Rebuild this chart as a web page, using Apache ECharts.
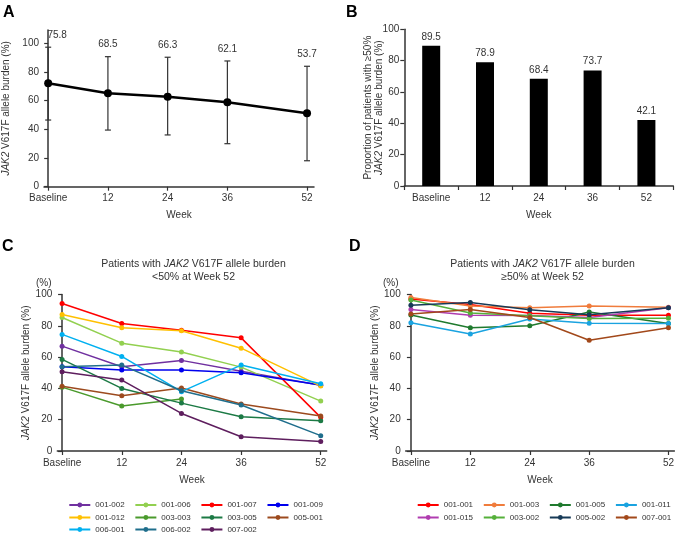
<!DOCTYPE html>
<html><head><meta charset="utf-8">
<script src="https://cdn.jsdelivr.net/npm/echarts@6/dist/echarts.min.js"></script>
<style>html,body{margin:0;padding:0;background:#fff}#c{width:677px;height:533px}</style>
</head><body><div id="c"></div>
<script>
// ---------- DATA ----------
const weeks = [0, 12, 24, 36, 52];
const weekLabels = ['Baseline', '12', '24', '36', '52'];
const yTicks = [0, 20, 40, 60, 80, 100];

// Panel A
const meanBurden = [72.2, 65.2, 62.8, 58.9, 51.2];
const errLow = [46.5, 39.5, 36.1, 30.0, 18.1];
const errHigh = [97.3, 90.7, 90.3, 87.7, 84.0];
const topLabels = ['75.8', '68.5', '66.3', '62.1', '53.7'];

// Panel B
const proportion = [89.5, 78.9, 68.4, 73.7, 42.1];

// Panel C (<50% at week 52)
const cNames = ['001-002', '001-006', '001-007', '001-009', '001-012', '003-003', '003-005', '005-001', '006-001', '006-002', '007-002'];
const c001_002 = [67.0, 53.8, 57.9, 51.0, 42.0];
const c001_006 = [85.3, 68.9, 63.2, 53.6, 31.9];
const c001_007 = [94.3, 81.5, 77.2, 72.3, 21.5];
const c001_009 = [53.8, 51.7, 51.7, 50.0, 42.1];
const c001_012 = [87.2, 78.7, 76.8, 65.7, 41.5];
const c003_003 = [40.8, 28.7, 33.2, null, null];
const c003_005 = [58.5, 40.0, 30.6, 21.9, 19.4];
const c005_001 = [41.3, 35.3, 40.2, 30.0, 22.3];
const c006_001 = [74.5, 60.4, 37.9, 54.9, 43.0];
const c006_002 = [53.8, 54.9, 38.5, 29.4, 9.8];
const c007_002 = [50.6, 45.3, 24.0, 9.1, 6.0];
const cValues = [c001_002, c001_006, c001_007, c001_009, c001_012, c003_003, c003_005, c005_001, c006_001, c006_002, c007_002];

// Panel D (>=50% at week 52)
const dNames = ['001-001', '001-003', '001-005', '001-011', '001-015', '003-002', '005-002', '007-001'];
const d001_001 = [97.2, 93.6, 88.0, 86.8, 86.7];
const d001_003 = [98.1, 92.6, 91.6, 92.6, 91.8];
const d001_005 = [86.9, 78.8, 80.0, 88.8, 81.5];
const d001_011 = [81.9, 74.7, 84.3, 81.7, 81.4];
const d001_015 = [90.4, 86.8, 86.6, 85.3, 91.5];
const d003_002 = [96.5, 88.2, 86.4, 84.7, 84.8];
const d005_002 = [93.2, 94.9, 90.3, 87.0, 91.6];
const d007_001 = [87.5, 90.4, 85.3, 70.8, 78.7];
const dValues = [d001_001, d001_003, d001_005, d001_011, d001_015, d003_002, d005_002, d007_001];

// ---------- STYLE ----------
const FONT = '"Liberation Sans", Arial, Helvetica, sans-serif';
const TXT = '#333';
const AX = '#333';
const cColors = ['#7030A0', '#92D050', '#FF0000', '#0000EE', '#FFC000', '#4A9A2C', '#1C7A45', '#9C4A1E', '#00B0F0', '#1F6E8C', '#5E1E5E'];
const dColors = ['#FF0000', '#F07C3C', '#1F7A2E', '#1AA3E0', '#B03CB0', '#55B03A', '#173A57', '#A2481A'];

const weekFmt = v => v === 0 ? 'Baseline' : String(v);

function valX(grid, min, max) {
  return {
    type: 'value', gridIndex: grid, min: min, max: max,
    axisLine: {show: true, onZero: false, lineStyle: {color: AX, width: 1.5}},
    axisTick: {show: true, length: 4, customValues: weeks, lineStyle: {color: AX, width: 1.2}},
    axisLabel: {customValues: weeks, formatter: weekFmt, color: TXT, fontSize: 10, fontFamily: FONT, margin: 7},
    splitLine: {show: false},
    name: 'Week', nameLocation: 'middle', nameGap: 24,
    nameTextStyle: {color: TXT, fontSize: 10, fontFamily: FONT}
  };
}
function valY(grid, max, name, gap) {
  return {
    type: 'value', gridIndex: grid, min: 0, max: max,
    axisLine: {show: true, lineStyle: {color: AX, width: 1.5}},
    axisTick: {show: true, length: 4, customValues: yTicks, lineStyle: {color: AX, width: 1.2}},
    axisLabel: {customValues: yTicks, color: TXT, fontSize: 10, fontFamily: FONT, margin: 5},
    splitLine: {show: false},
    name: name, nameLocation: 'middle', nameGap: gap, nameMoveOverlap: false,
    nameTextStyle: {color: TXT, fontSize: 10, fontFamily: FONT, lineHeight: 11,
      rich: {i: {fontStyle: 'italic', fontSize: 10, fontFamily: FONT, color: TXT},
             n: {fontSize: 10, fontFamily: FONT, color: TXT}}}
  };
}

const series = [];
// A: error bars + labels
series.push({
  type: 'custom', xAxisIndex: 0, yAxisIndex: 0, z: 2, clip: false,
  data: weeks.map((w, i) => [w, errLow[i], errHigh[i], i]),
  renderItem: function (params, api) {
    const x = api.value(0);
    const lo = api.coord([x, api.value(1)]);
    const hi = api.coord([x, api.value(2)]);
    const i = api.value(3);
    const cap = 3;
    const st = {stroke: '#333', lineWidth: 1.2};
    return {type: 'group', children: [
      {type: 'line', shape: {x1: lo[0], y1: lo[1], x2: hi[0], y2: hi[1]}, style: st},
      {type: 'line', shape: {x1: lo[0] - cap, y1: lo[1], x2: lo[0] + cap, y2: lo[1]}, style: st},
      {type: 'line', shape: {x1: hi[0] - cap, y1: hi[1], x2: hi[0] + cap, y2: hi[1]}, style: st},
      {type: 'text', x: hi[0] + (i === 0 ? 9 : 0), y: hi[1] - 12,
       style: {text: topLabels[i], fill: TXT, fontSize: 10, fontFamily: FONT, align: 'center', verticalAlign: 'middle'}}
    ]};
  }
});
series.push({
  type: 'line', xAxisIndex: 0, yAxisIndex: 0, z: 3,
  data: weeks.map((w, i) => [w, meanBurden[i]]),
  symbol: 'circle', symbolSize: 8, color: '#000',
  lineStyle: {color: '#000', width: 2.5}, itemStyle: {color: '#000'}
});
// B
series.push({
  type: 'bar', xAxisIndex: 1, yAxisIndex: 1, data: proportion, barWidth: 18,
  itemStyle: {color: '#000'},
  label: {show: true, position: 'top', distance: 4, color: TXT, fontSize: 10, fontFamily: FONT, formatter: p => p.value.toFixed(1)}
});
// C
cNames.forEach((n, k) => {
  series.push({
    type: 'line', name: n, xAxisIndex: 2, yAxisIndex: 2,
    data: weeks.map((w, i) => [w, cValues[k][i]]).filter(d => d[1] !== null),
    symbol: 'circle', symbolSize: 5, color: cColors[k],
    lineStyle: {width: 1.5, color: cColors[k]}, itemStyle: {color: cColors[k]}
  });
});
// D
dNames.forEach((n, k) => {
  series.push({
    type: 'line', name: n, xAxisIndex: 3, yAxisIndex: 3,
    data: weeks.map((w, i) => [w, dValues[k][i]]),
    symbol: 'circle', symbolSize: 5, color: dColors[k],
    lineStyle: {width: 1.5, color: dColors[k]}, itemStyle: {color: dColors[k]}
  });
});

function legendRow(names, left, top) {
  return {
    data: names, left: left, top: top, orient: 'horizontal', padding: 0,
    itemGap: 9.7, itemWidth: 21, itemHeight: 6,
    textStyle: {fontSize: 8, color: TXT, fontFamily: FONT}
  };
}

const titleStyle = {
  fontSize: 10.5, fontWeight: 'normal', color: TXT, fontFamily: FONT, lineHeight: 13.4,
  rich: {i: {fontStyle: 'italic', fontSize: 10.5, fontFamily: FONT, color: TXT, lineHeight: 13.4},
         n: {fontSize: 10.5, fontFamily: FONT, color: TXT, lineHeight: 13.4}}
};

const option = {
  animation: false,
  backgroundColor: '#fff',
  textStyle: {fontFamily: FONT},
  title: [
    {text: '{n|Patients with }{i|JAK2}{n| V617F allele burden}\n{n|<50% at Week 52}', left: 193.5, top: 257, textAlign: 'center', textStyle: titleStyle, padding: 0},
    {text: '{n|Patients with }{i|JAK2}{n| V617F allele burden}\n{n|\u226550% at Week 52}', left: 542.5, top: 257, textAlign: 'center', textStyle: titleStyle, padding: 0}
  ],
  grid: [
    {left: 43, top: 30, width: 271, height: 156.7},
    {left: 404.3, top: 29.3, width: 269, height: 156.7},
    {left: 57.3, top: 294.5, width: 269.4, height: 156.5},
    {left: 405.7, top: 294.5, width: 269.3, height: 156.5}
  ],
  xAxis: [
    valX(0, -0.84, 53.4),
    {
      type: 'category', gridIndex: 1, data: weekLabels,
      axisLine: {show: true, lineStyle: {color: AX, width: 1.5}},
      axisTick: {show: true, length: 4, lineStyle: {color: AX, width: 1.2}},
      axisLabel: {color: TXT, fontSize: 10, fontFamily: FONT, margin: 7},
      name: 'Week', nameLocation: 'middle', nameGap: 24,
      nameTextStyle: {color: TXT, fontSize: 10, fontFamily: FONT}
    },
    valX(2, -0.96, 53.2),
    valX(3, -1.05, 53.2)
  ],
  yAxis: [
    valY(0, 109.3, '{i|JAK2}{n| V617F allele burden (%)}', 32),
    valY(1, 100, '{n|Proportion of patients with \u226550%}\n{i|JAK2}{n| V617F allele burden (%)}', 20),
    valY(2, 100, '{i|JAK2}{n| V617F allele burden (%)}', 25.5),
    valY(3, 100, '{i|JAK2}{n| V617F allele burden (%)}', 25)
  ],
  legend: [
    legendRow(cNames.slice(0, 4), 68.3, 501),
    legendRow(cNames.slice(4, 8), 68.3, 513.5),
    legendRow(cNames.slice(8, 11), 68.3, 525.5),
    legendRow(dNames.slice(0, 4), 416.7, 501),
    legendRow(dNames.slice(4, 8), 416.7, 513.5)
  ],
  graphic: [
    {type: 'text', left: 3, top: 5, style: {text: 'A', fontSize: 16, fontWeight: 'bold', fill: '#000', fontFamily: FONT}},
    {type: 'text', left: 346, top: 5, style: {text: 'B', fontSize: 16, fontWeight: 'bold', fill: '#000', fontFamily: FONT}},
    {type: 'text', left: 2, top: 239, style: {text: 'C', fontSize: 16, fontWeight: 'bold', fill: '#000', fontFamily: FONT}},
    {type: 'text', left: 349, top: 239, style: {text: 'D', fontSize: 16, fontWeight: 'bold', fill: '#000', fontFamily: FONT}},
    {type: 'text', left: 36, top: 278, style: {text: '(%)', fontSize: 10, fill: TXT, fontFamily: FONT}},
    {type: 'text', left: 383, top: 278, style: {text: '(%)', fontSize: 10, fill: TXT, fontFamily: FONT}}
  ],
  series: series
};
const chart = echarts.init(document.getElementById('c'));
chart.setOption(option);
</script>
</body></html>
